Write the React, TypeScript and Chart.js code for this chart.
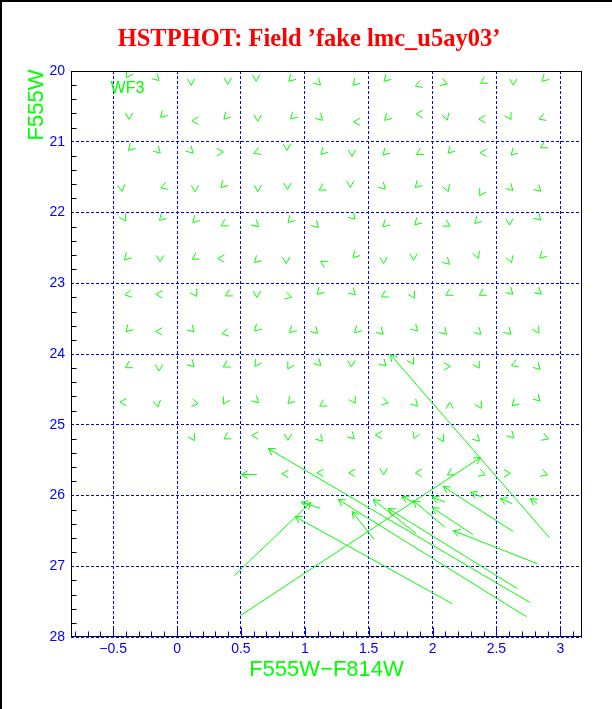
import React, { useEffect, useRef } from "react";
import { Chart, registerables } from "chart.js";

Chart.register(...registerables);

// ---------- axes ----------
const X_MIN = -0.83;
const X_MAX = 3.17;
const Y_MIN = 20;
const Y_MAX = 28;
const xTickValues = [-0.5, 0, 0.5, 1, 1.5, 2, 2.5, 3];
const xTickLabels = ["\u22120.5", "0", "0.5", "1", "1.5", "2", "2.5", "3"];
const yTickValues = [20, 21, 22, 23, 24, 25, 26, 27, 28];
const yTickLabels = ["20", "21", "22", "23", "24", "25", "26", "27", "28"];

const TITLE = "HSTPHOT: Field \u2019fake lmc_u5ay03\u2019";
const X_TITLE = "F555W\u2212F814W";
const Y_TITLE = "F555W";
const CHIP_LABEL = "WF3";

// ---------- small displacement vectors (colour, magnitude, direction in deg on screen) ----------
const smallColor = [
  -0.384, -0.159, 0.110, 0.397, 0.619, 0.893, 1.105, 1.395, 1.638, 1.889, 2.092, 2.398, 2.633, 2.876,
  -0.376, -0.112, 0.141, 0.384, 0.632, 0.907, 1.121, 1.408, 1.643, 1.897, 2.108, 2.388, 2.602, 2.858,
  -0.363, -0.149, 0.107, 0.337, 0.625, 0.860, 1.144, 1.369, 1.630, 1.897, 2.139, 2.398, 2.633, 2.868,
  -0.433, -0.102, 0.141, 0.361, 0.632, 0.864, 1.134, 1.356, 1.612, 1.883, 2.114, 2.382, 2.610, 2.829,
  -0.415, -0.120, 0.141, 0.368, 0.619, 0.886, 1.089, 1.377, 1.630, 1.879, 2.114, 2.349, 2.602, 2.829,
  -0.394, -0.133, 0.141, 0.345, 0.625, 0.854, 1.147, 1.395, 1.617, 1.852, 2.114, 2.349, 2.610, 2.858,
  -0.382, -0.141, 0.141, 0.402, 0.625, 0.872, 1.115, 1.377, 1.622, 1.847, 2.127, 2.388, 2.610, 2.832,
  -0.382, -0.141, 0.115, 0.376, 0.625, 0.899, 1.082, 1.408, 1.596, 1.865, 2.092, 2.361, 2.596, 2.819,
  -0.382, -0.141, 0.115, 0.384, 0.625, 0.880, 1.107, 1.364, 1.617, 1.839, 2.114, 2.353, 2.641, 2.824,
  -0.421, -0.154, 0.141, 0.376, 0.619, 0.886, 1.139, 1.382, 1.630, 1.865, 2.134, 2.369, 2.641, 2.824,
  0.123, 0.389, 0.611, 0.868, 1.121, 1.369, 1.578, 1.865, 2.074, 2.349, 2.618, 2.884,
  0.846, 1.121, 1.369, 1.617, 1.891, 2.139, 2.388, 2.584, 2.876,
];
const smallMag = [
  20.057, 20.103, 20.156, 20.142, 20.099, 20.113, 20.166, 20.170, 20.113, 20.198, 20.170, 20.151, 20.156, 20.113,
  20.637, 20.623, 20.703, 20.647, 20.665, 20.647, 20.665, 20.718, 20.665, 20.609, 20.651, 20.679, 20.647, 20.665,
  21.090, 21.128, 21.128, 21.146, 21.146, 21.076, 21.146, 21.161, 21.156, 21.156, 21.128, 21.156, 21.156, 21.062,
  21.656, 21.638, 21.660, 21.614, 21.660, 21.628, 21.660, 21.599, 21.638, 21.614, 21.660, 21.723, 21.656, 21.670,
  22.081, 22.081, 22.109, 22.166, 22.170, 22.109, 22.180, 22.062, 22.170, 22.142, 22.170, 22.123, 22.133, 22.076,
  22.637, 22.651, 22.637, 22.651, 22.675, 22.675, 22.713, 22.604, 22.675, 22.628, 22.699, 22.604, 22.665, 22.614,
  23.156, 23.156, 23.147, 23.156, 23.156, 23.185, 23.124, 23.132, 23.171, 23.171, 23.147, 23.147, 23.124, 23.124,
  23.652, 23.680, 23.656, 23.704, 23.642, 23.666, 23.676, 23.666, 23.690, 23.642, 23.690, 23.690, 23.690, 23.666,
  24.171, 24.194, 24.147, 24.161, 24.137, 24.171, 24.129, 24.137, 24.137, 24.105, 24.175, 24.161, 24.147, 24.185,
  24.681, 24.703, 24.695, 24.667, 24.657, 24.667, 24.713, 24.657, 24.681, 24.703, 24.728, 24.728, 24.703, 24.633,
  25.185, 25.176, 25.152, 25.176, 25.199, 25.166, 25.145, 25.152, 25.199, 25.199, 25.152, 25.185,
  25.694, 25.680, 25.680, 25.662, 25.680, 25.686, 25.694, 25.686, 25.694,
];
const smallDir = [
  120, 45, 90, 90, 90, 135, 45, 135, 135, 160, 20, 150, 90, 135,
  90, 135, 180, 135, 90, 135, 45, 180, 135, 180, 70, 180, 60, 160,
  135, 45, 45, 0, 160, 90, 135, 90, 135, 150, 135, 180, 135, 150,
  80, 160, 90, 135, 90, 90, 150, 90, 45, 135, 70, 120, 45, 45,
  60, 135, 135, 150, 45, 135, 45, 45, 135, 135, 30, 135, 90, 45,
  135, 90, 150, 180, 135, 90, 210, 135, 90, 90, 45, 70, 70, 135,
  170, 180, 60, 150, 90, 15, 135, 45, 150, 60, 150, 150, 45, 40,
  135, 180, 45, 170, 135, 135, 45, 135, 45, 45, 45, 45, 45, 60,
  150, 90, 45, 150, 120, 120, 45, 90, 45, 60, 0, 60, 160, 45,
  180, 80, 10, 120, 45, 135, 150, 60, 15, 45, 270, 60, 135, 45,
  60, 150, 180, 90, 45, 45, 180, 110, 60, 45, 45, 20,
  180, 180, 180, 90, 180, 150, 20, 0, 20,
];

// ---------- large displacement vectors (tail -> head) ----------
const tailColor = [2.915, 2.766, 0.625, 0.494, 0.447, 1.121, 2.155, 2.735, 1.544, 2.665, 1.873, 1.857, 2.100, 2.100, 2.316, 2.633, 2.390, 2.821, 2.625, 2.821];
const tailMag = [26.596, 27.516, 25.704, 27.700, 27.134, 26.181, 27.530, 27.714, 26.624, 27.318, 26.539, 26.100, 26.454, 26.096, 26.553, 26.511, 26.026, 26.964, 26.115, 26.115];
const headColor = [1.669, 0.713, 0.502, 2.375, 1.046, 0.972, 0.925, 1.262, 1.371, 1.654, 1.536, 1.761, 1.850, 1.996, 1.998, 2.085, 2.296, 2.163, 2.531, 2.766];
const headMag = [24.006, 25.336, 25.704, 25.464, 26.100, 26.096, 26.299, 26.058, 26.228, 26.185, 26.058, 26.016, 26.072, 26.025, 26.171, 25.874, 25.955, 26.497, 26.044, 26.044];

const CHIP_LABEL_POS = { x: -0.52, y: 20.31 };

// ---------- styles ----------
const GREEN = "#00ff00";
const BLUE = "#0000ff";
const RED = "#ff0000";
const SANS = "'Liberation Sans', Arial, sans-serif";
const SERIF = "'Liberation Serif', 'Times New Roman', serif";
const HEAD_LEN = 7.5;
const HEAD_HALF = (30 * Math.PI) / 180;

function drawHead(ctx: CanvasRenderingContext2D, x: number, y: number, ang: number) {
  const back = ang + Math.PI;
  ctx.beginPath();
  ctx.moveTo(x + HEAD_LEN * Math.cos(back - HEAD_HALF), y + HEAD_LEN * Math.sin(back - HEAD_HALF));
  ctx.lineTo(x, y);
  ctx.lineTo(x + HEAD_LEN * Math.cos(back + HEAD_HALF), y + HEAD_LEN * Math.sin(back + HEAD_HALF));
  ctx.stroke();
}

const arrowHeadPlugin = {
  id: "arrowHeads",
  afterDatasetsDraw(chart: any) {
    const { ctx, chartArea: a, scales } = chart;
    const xs = scales.x;
    const ys = scales.y;
    ctx.save();
    ctx.beginPath();
    ctx.rect(a.left, a.top, a.right - a.left, a.bottom - a.top);
    ctx.clip();
    ctx.strokeStyle = GREEN;
    ctx.lineWidth = 1;
    const meta = chart.getDatasetMeta(0);
    const off = (HEAD_LEN * Math.cos(HEAD_HALF)) / 2;
    meta.data.forEach((el: any, i: number) => {
      const ang = (smallDir[i] * Math.PI) / 180;
      drawHead(ctx, el.x + off * Math.cos(ang), el.y + off * Math.sin(ang), ang);
    });
    for (let i = 0; i < headColor.length; i++) {
      const x0 = xs.getPixelForValue(tailColor[i]);
      const y0 = ys.getPixelForValue(tailMag[i]);
      const x1 = xs.getPixelForValue(headColor[i]);
      const y1 = ys.getPixelForValue(headMag[i]);
      drawHead(ctx, x1, y1, Math.atan2(y1 - y0, x1 - x0));
    }
    ctx.restore();
  },
};

const decorPlugin = {
  id: "decor",
  afterDraw(chart: any) {
    const { ctx, chartArea: a, scales } = chart;
    const xs = scales.x;
    const ys = scales.y;
    ctx.save();
    // page edge lines
    ctx.fillStyle = "#000";
    ctx.fillRect(0, 0, chart.width, 2);
    ctx.fillRect(0, 0, 2, chart.height);

    const L = Math.round(a.left) + 0.5;
    const R = Math.round(a.right) - 0.5;
    const T = Math.round(a.top) + 0.5;
    const B = Math.round(a.bottom) - 0.5;

    // x ticks (blue, inward)
    ctx.strokeStyle = BLUE;
    ctx.lineWidth = 1;
    ctx.beginPath();
    for (let k = -8; k <= 31; k++) {
      const v = k / 10;
      const px = Math.round(xs.getPixelForValue(v)) + 0.5;
      const len = k % 5 === 0 ? 9 : 5;
      ctx.moveTo(px, B);
      ctx.lineTo(px, B - len);
    }
    ctx.stroke();

    // y minor ticks (black, inward)
    ctx.strokeStyle = "#000";
    ctx.beginPath();
    for (let k = 1; k < 40; k++) {
      if (k % 5 === 0) continue;
      const v = Y_MIN + k / 5;
      const py = Math.round(ys.getPixelForValue(v)) + 0.5;
      ctx.moveTo(L, py);
      ctx.lineTo(L + 5, py);
    }
    ctx.stroke();

    // frame
    ctx.strokeStyle = "#000";
    ctx.strokeRect(L, T, R - L, B - T);

    // title
    ctx.fillStyle = RED;
    ctx.font = `bold 24.5px ${SERIF}`;
    ctx.textAlign = "center";
    ctx.textBaseline = "alphabetic";
    ctx.fillText(TITLE, 309, 46);

    // axis titles
    ctx.fillStyle = GREEN;
    ctx.font = `22px ${SANS}`;
    ctx.fillText(X_TITLE, (a.left + a.right) / 2, 676);
    ctx.save();
    ctx.translate(43, 105);
    ctx.rotate(-Math.PI / 2);
    ctx.fillText(Y_TITLE, 0, 0);
    ctx.restore();

    // chip label
    ctx.font = `16px ${SANS}`;
    ctx.textAlign = "left";
    ctx.fillText(CHIP_LABEL, xs.getPixelForValue(CHIP_LABEL_POS.x), ys.getPixelForValue(CHIP_LABEL_POS.y));
    ctx.restore();
  },
};

export default function App() {
  const ref = useRef<HTMLCanvasElement | null>(null);

  useEffect(() => {
    if (!ref.current) return;
    const datasets: any[] = [
      {
        label: "small",
        data: smallColor.map((x, i) => ({ x, y: smallMag[i] })),
        pointRadius: 0,
        showLine: false,
      },
    ];
    for (let i = 0; i < headColor.length; i++) {
      datasets.push({
        label: "v" + i,
        data: [
          { x: tailColor[i], y: tailMag[i] },
          { x: headColor[i], y: headMag[i] },
        ],
        showLine: true,
        borderColor: GREEN,
        borderWidth: 1,
        pointRadius: 0,
        fill: false,
      });
    }
    const chart = new Chart(ref.current, {
      type: "scatter",
      data: { datasets },
      options: {
        animation: false,
        responsive: false,
        devicePixelRatio: 1,
        events: [],
        layout: { padding: { left: 0, right: 30, top: 71, bottom: 0 } },
        plugins: { legend: { display: false }, tooltip: { enabled: false }, title: { display: false } },
        scales: {
          x: {
            type: "linear",
            min: X_MIN,
            max: X_MAX,
            afterBuildTicks: (s: any) => {
              s.ticks = xTickValues.map((v) => ({ value: v }));
            },
            afterFit: (s: any) => {
              s.height = 72;
            },
            grid: { color: BLUE, lineWidth: 1, drawTicks: false },
            border: { display: false, dash: [3, 2] },
            ticks: {
              color: BLUE,
              font: { family: SANS, size: 14 },
              padding: 4,
              maxRotation: 0,
              autoSkip: false,
              callback: (_v: any, i: number) => xTickLabels[i],
            },
          },
          y: {
            type: "linear",
            reverse: true,
            min: Y_MIN,
            max: Y_MAX,
            afterBuildTicks: (s: any) => {
              s.ticks = yTickValues.map((v) => ({ value: v }));
            },
            afterFit: (s: any) => {
              s.width = 71;
            },
            grid: { color: BLUE, lineWidth: 1, drawTicks: false },
            border: { display: false, dash: [3, 2] },
            ticks: {
              color: BLUE,
              font: { family: SANS, size: 14 },
              padding: 6,
              autoSkip: false,
              callback: (_v: any, i: number) => yTickLabels[i],
            },
          },
        },
      } as any,
      plugins: [arrowHeadPlugin, decorPlugin],
    });
    return () => chart.destroy();
  }, []);

  return (
    <div style={{ position: "fixed", left: 0, top: 0, width: 612, height: 709, background: "#fff" }}>
      <canvas ref={ref} width={612} height={709} style={{ display: "block", width: 612, height: 709 }} />
    </div>
  );
}
